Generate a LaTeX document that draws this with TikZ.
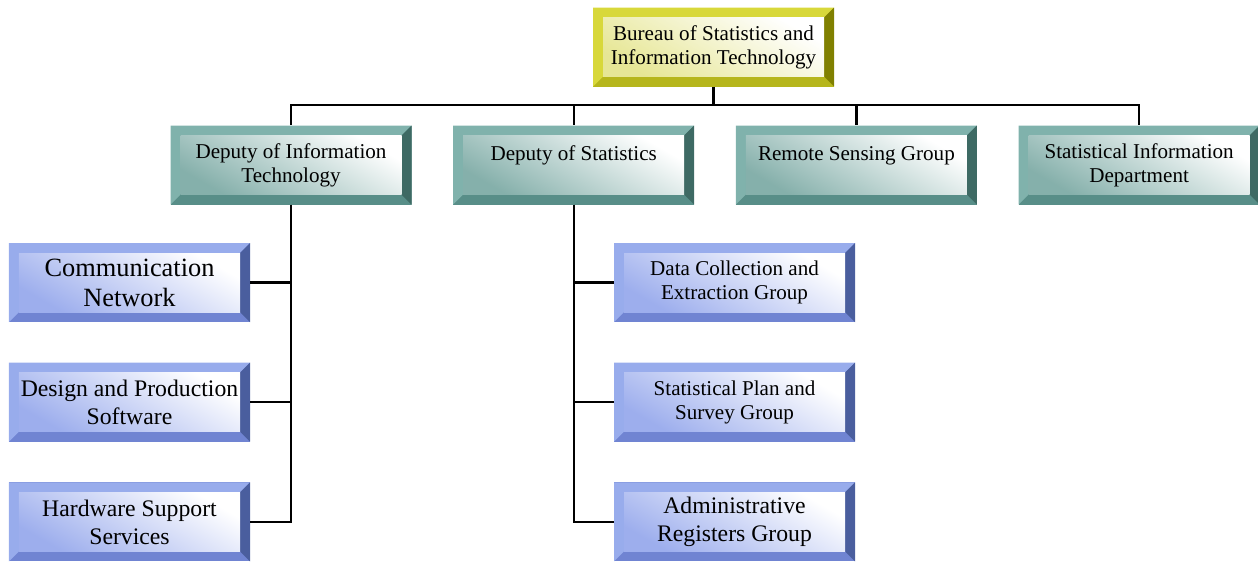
\documentclass[tikz,border=0pt]{standalone}
\usepackage{fontspec}
\setmainfont{Liberation Serif}
\usetikzlibrary{positioning}

\definecolor{yelLight}{RGB}{216,216,58}
\definecolor{yelMid}{RGB}{182,182,28}
\definecolor{yelDark}{RGB}{128,128,0}
\definecolor{yelIn}{RGB}{226,226,130}
\definecolor{tealLight}{RGB}{128,178,172}
\definecolor{tealMid}{RGB}{88,142,136}
\definecolor{tealDark}{RGB}{62,106,100}
\definecolor{tealIn}{RGB}{112,162,156}
\definecolor{bluLight}{RGB}{152,172,236}
\definecolor{bluMid}{RGB}{112,132,210}
\definecolor{bluDark}{RGB}{74,94,158}
\definecolor{bluIn}{RGB}{140,160,234}

\def\bw{0.2cm}
% bevelled frame: light top/left, mid bottom, dark right, shaded face
\newcommand\bevelpic[4]{%
  \fill[#2] (path picture bounding box.south west) rectangle (path picture bounding box.north east);
  \fill[#1] (path picture bounding box.south west) |- (path picture bounding box.north east)
    -- ([shift={(-\bw,-\bw)}]path picture bounding box.north east)
    -| ([shift={(\bw,\bw)}]path picture bounding box.south west) -- cycle;
  \fill[#3] (path picture bounding box.north east) -- (path picture bounding box.south east)
    -- ([shift={(-\bw,\bw)}]path picture bounding box.south east)
    -- ([shift={(-\bw,-\bw)}]path picture bounding box.north east) -- cycle;
  \shade[top color=white, middle color=white, bottom color=#4!85, shading angle=-30]
    ([shift={(\bw,\bw)}]path picture bounding box.south west)
    rectangle ([shift={(-\bw,-\bw)}]path picture bounding box.north east);
}

\begin{document}
\begin{tikzpicture}[font=\fontsize{12}{13.6}\selectfont,
	box/.style={minimum width=4.82cm, minimum height=1.58cm, inner sep=0pt, align=center},
	yelbox/.style={box, path picture={\bevelpic{yelLight}{yelMid}{yelDark}{yelIn}}},
	tealbox/.style={box, path picture={\bevelpic{tealLight}{tealMid}{tealDark}{tealIn}}},
	blubox/.style={box, path picture={\bevelpic{bluLight}{bluMid}{bluDark}{bluIn}}},
	large/.style={font=\fontsize{15}{17}\selectfont},
	medium/.style={font=\fontsize{13.5}{15.9}\selectfont},
	link/.style={line width=1.3pt},
	node distance=0.8cm]
	\useasboundingbox (0,0) rectangle (25.16,-11.22);
	
	\node[yelbox](bsit) at (14.27,-0.94){Bureau of Statistics and\\Information Technology};
	
	\node[tealbox](dit) at (5.82,-3.30){Deputy of Information\\Technology};
	\node[tealbox](ds)[right=0.82cm of dit]{Deputy of Statistics\\~};
	\node[tealbox](rsg)[right=0.82cm of ds]{Remote Sensing Group\\~};
	\node[tealbox](sid)[right=0.82cm of rsg]{Statistical Information\\Department};
	
	\node[blubox,large](cn) at (2.59,-5.65){Communication\\Network};
	\node[blubox,medium](dps)[below=of cn]{Design and Production\\Software};
	\node[blubox,medium](hss)[below=of dps]{Hardware Support\\Services};
	
	\node[blubox](dceg) at (14.69,-5.65){Data Collection and\\Extraction Group};
	\node[blubox](spsg)[below=of dceg]{Statistical Plan and\\Survey Group};
	\node[blubox,medium](arg)[below=of spsg]{Administrative\\Registers Group};
	
	\coordinate (bus) at (14.27,-2.1);
	\draw[link] (bsit.south) -- (bus);
	\foreach \n in {dit,ds,rsg,sid}
		\draw[link] (bus) -| (\n.north);
	\foreach \n in {cn,dps,hss}
		\draw[link] (dit.south) |- (\n.east);
	\foreach \n in {dceg,spsg,arg}
		\draw[link] (ds.south) |- (\n.west);
\end{tikzpicture}
\end{document}
